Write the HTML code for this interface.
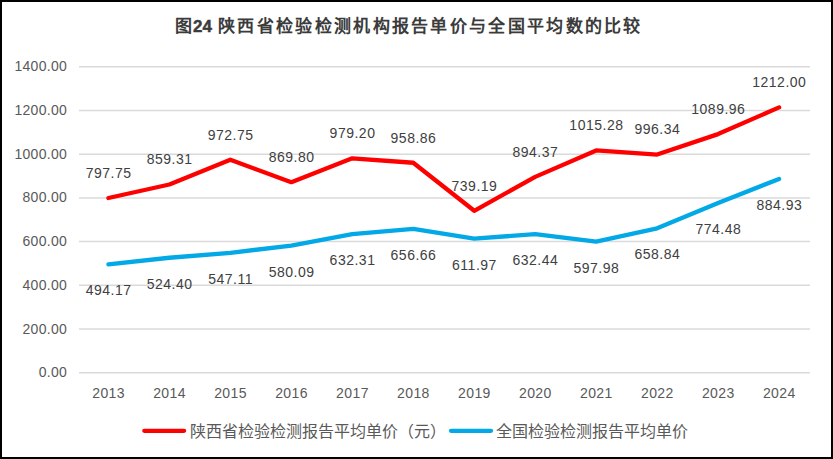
<!DOCTYPE html>
<html lang="zh-CN"><head><meta charset="utf-8"><style>
html,body{margin:0;padding:0;background:#fff;}
body{width:833px;height:459px;overflow:hidden;position:relative;}
.frame{position:absolute;left:0;top:0;width:833px;height:459px;box-sizing:border-box;border:2px solid #000;background:#fff;}
svg{position:absolute;left:0;top:0;}
text{font-family:"Liberation Sans", sans-serif;}
.ax{font-size:14px;fill:#595959;letter-spacing:0.4px;}
.dl{font-size:14px;fill:#404040;letter-spacing:0.5px;}
.lg{font-size:16px;fill:#595959;}
.tt{font-size:17px;font-weight:bold;fill:#3b3b3b;font-family:"Liberation Serif", serif;}
.ttn{font-family:"Liberation Sans", sans-serif;font-size:17px;font-weight:bold;fill:#3b3b3b;stroke:#3b3b3b;stroke-width:0.45px;}
</style></head><body>
<div class="frame"></div>
<svg width="833" height="459" viewBox="0 0 833 459">
<line x1="79" y1="372.80" x2="810" y2="372.80" stroke="#dadada" stroke-width="1.5"/>
<text x="67.1" y="377.40" text-anchor="end" class="ax" style="letter-spacing:0.3px">0.00</text>
<line x1="79" y1="329.07" x2="810" y2="329.07" stroke="#dadada" stroke-width="1.5"/>
<text x="67.1" y="333.67" text-anchor="end" class="ax" style="letter-spacing:0.3px">200.00</text>
<line x1="79" y1="285.34" x2="810" y2="285.34" stroke="#dadada" stroke-width="1.5"/>
<text x="67.1" y="289.94" text-anchor="end" class="ax" style="letter-spacing:0.3px">400.00</text>
<line x1="79" y1="241.61" x2="810" y2="241.61" stroke="#dadada" stroke-width="1.5"/>
<text x="67.1" y="246.21" text-anchor="end" class="ax" style="letter-spacing:0.3px">600.00</text>
<line x1="79" y1="197.89" x2="810" y2="197.89" stroke="#dadada" stroke-width="1.5"/>
<text x="67.1" y="202.49" text-anchor="end" class="ax" style="letter-spacing:0.3px">800.00</text>
<line x1="79" y1="154.16" x2="810" y2="154.16" stroke="#dadada" stroke-width="1.5"/>
<text x="67.1" y="158.76" text-anchor="end" class="ax" style="letter-spacing:0.3px">1000.00</text>
<line x1="79" y1="110.43" x2="810" y2="110.43" stroke="#dadada" stroke-width="1.5"/>
<text x="67.1" y="115.03" text-anchor="end" class="ax" style="letter-spacing:0.3px">1200.00</text>
<line x1="79" y1="66.70" x2="810" y2="66.70" stroke="#dadada" stroke-width="1.5"/>
<text x="67.1" y="71.30" text-anchor="end" class="ax" style="letter-spacing:0.3px">1400.00</text>
<text x="108.60" y="397.6" text-anchor="middle" class="ax">2013</text>
<text x="169.57" y="397.6" text-anchor="middle" class="ax">2014</text>
<text x="230.54" y="397.6" text-anchor="middle" class="ax">2015</text>
<text x="291.51" y="397.6" text-anchor="middle" class="ax">2016</text>
<text x="352.48" y="397.6" text-anchor="middle" class="ax">2017</text>
<text x="413.45" y="397.6" text-anchor="middle" class="ax">2018</text>
<text x="474.42" y="397.6" text-anchor="middle" class="ax">2019</text>
<text x="535.39" y="397.6" text-anchor="middle" class="ax">2020</text>
<text x="596.36" y="397.6" text-anchor="middle" class="ax">2021</text>
<text x="657.33" y="397.6" text-anchor="middle" class="ax">2022</text>
<text x="718.30" y="397.6" text-anchor="middle" class="ax">2023</text>
<text x="779.27" y="397.6" text-anchor="middle" class="ax">2024</text>
<polyline points="108.40,264.35 169.37,257.74 230.34,252.78 291.31,245.57 352.28,234.15 413.25,228.83 474.22,238.60 535.19,234.12 596.16,241.66 657.13,228.35 718.10,203.07 779.07,178.92" fill="none" stroke="#02a9e6" stroke-width="4.3" stroke-linejoin="round" stroke-linecap="round"/>
<polyline points="108.40,197.98 169.37,184.52 230.34,159.72 291.31,182.22 352.28,158.30 413.25,162.75 474.22,210.78 535.19,176.85 596.16,150.42 657.13,154.56 718.10,134.09 779.07,107.40" fill="none" stroke="#ff0000" stroke-width="4.3" stroke-linejoin="round" stroke-linecap="round"/>
<text x="108.65" y="177.88" text-anchor="middle" class="dl">797.75</text>
<text x="169.62" y="164.42" text-anchor="middle" class="dl">859.31</text>
<text x="230.59" y="139.62" text-anchor="middle" class="dl">972.75</text>
<text x="291.56" y="162.12" text-anchor="middle" class="dl">869.80</text>
<text x="352.53" y="138.20" text-anchor="middle" class="dl">979.20</text>
<text x="413.50" y="142.65" text-anchor="middle" class="dl">958.86</text>
<text x="474.47" y="190.68" text-anchor="middle" class="dl">739.19</text>
<text x="535.44" y="156.75" text-anchor="middle" class="dl">894.37</text>
<text x="596.41" y="130.32" text-anchor="middle" class="dl">1015.28</text>
<text x="657.38" y="134.46" text-anchor="middle" class="dl">996.34</text>
<text x="718.35" y="113.99" text-anchor="middle" class="dl">1089.96</text>
<text x="779.32" y="87.30" text-anchor="middle" class="dl">1212.00</text>
<text x="108.65" y="295.45" text-anchor="middle" class="dl">494.17</text>
<text x="169.62" y="288.84" text-anchor="middle" class="dl">524.40</text>
<text x="230.59" y="283.88" text-anchor="middle" class="dl">547.11</text>
<text x="291.56" y="276.67" text-anchor="middle" class="dl">580.09</text>
<text x="352.53" y="265.25" text-anchor="middle" class="dl">632.31</text>
<text x="413.50" y="259.93" text-anchor="middle" class="dl">656.66</text>
<text x="474.47" y="269.70" text-anchor="middle" class="dl">611.97</text>
<text x="535.44" y="265.22" text-anchor="middle" class="dl">632.44</text>
<text x="596.41" y="272.76" text-anchor="middle" class="dl">597.98</text>
<text x="657.38" y="259.45" text-anchor="middle" class="dl">658.84</text>
<text x="718.35" y="234.17" text-anchor="middle" class="dl">774.48</text>
<text x="779.32" y="210.02" text-anchor="middle" class="dl">884.93</text>
<line x1="144.3" y1="430.8" x2="184.1" y2="430.8" stroke="#ff0000" stroke-width="4.3" stroke-linecap="round"/>
<text x="189.5" y="437" class="lg">陕西省检验检测报告平均单价（元）</text>
<line x1="451" y1="430.8" x2="491" y2="430.8" stroke="#02a9e6" stroke-width="4.3" stroke-linecap="round"/>
<text x="496" y="437" class="lg">全国检验检测报告平均单价</text>
<text x="175.4" y="32" class="tt">图</text>
<text x="193.0" y="31.9" class="ttn">24</text>
<text x="218.2" y="32" class="tt" style="letter-spacing:2.3px">陕西省检验检测机构报告单价与全国平均数的比较</text>
</svg>
</body></html>
